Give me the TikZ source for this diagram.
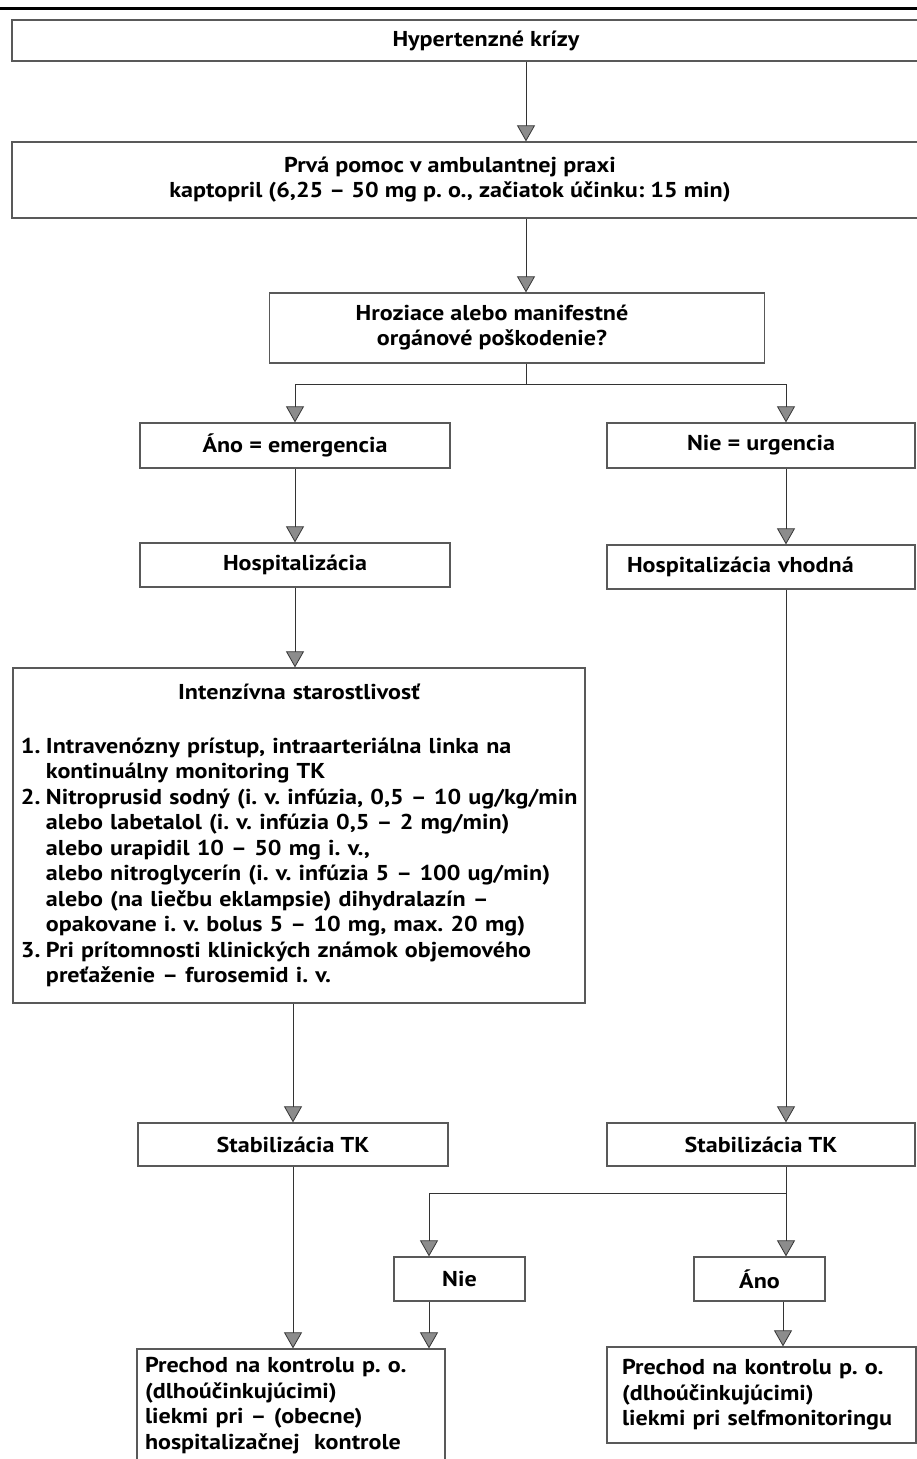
\documentclass[tikz,border=0pt]{standalone}
\usepackage{fontspec}
\setmainfont{PT Sans}[FakeStretch=1.12]
\usetikzlibrary{arrows.meta,positioning}
\setlength{\parindent}{0pt}
\frenchspacing
\tikzset{
  box/.style={rectangle,draw=black!65,line width=1.3pt,inner sep=0pt,align=center,
    font=\bfseries\fontsize{21.5}{25.5}\selectfont},
  arr/.style={draw=black!80,line width=0.8pt,-{Triangle[width=18pt,length=16pt,fill=black!45]}},
  lin/.style={draw=black!80,line width=0.8pt},
}
\newcommand{\itm}[2]{\makebox[25pt][l]{#1}\mbox{#2}}
\newcommand{\ind}[1]{\hspace*{25pt}\mbox{#1}}
\newcommand{\lft}[2]{\hspace*{#1}\begin{tabular}{@{}c@{}}#2\end{tabular}}

\begin{document}
\begin{tikzpicture}[x=1pt,y=-1pt,node distance=0pt,on grid]
\useasboundingbox (0,0) rectangle (917,1459);
\clip (0,0) rectangle (917,1459);
\draw[line width=3pt] (0,8) -- (917,8);
\node[box,minimum width=948pt,minimum height=41pt](q_0) at (486,40.5) {Hypertenzné krízy};
\node[box,minimum width=908pt,minimum height=76pt](q_1) at (466,180) {\lft{-32pt}{Prvá pomoc v ambulantnej praxi\\kaptopril (6,25 – 50 mg p. o., začiatok účinku: 15 min)}};
\node[box,minimum width=495pt,minimum height=70pt](q_2) at (517,328) {\lft{-50pt}{Hroziace alebo manifestné\\orgánové poškodenie?}};
\node[box,minimum width=310pt,minimum height=45pt](q_3) at (295,445.5) {Áno = emergencia};
\node[box,minimum width=308pt,minimum height=45pt](q_4) at (761,445.5) {Nie = urgencia};
\node[box,minimum width=310pt,minimum height=44pt](q_5) at (295,565) {Hospitalizácia};
\node[box,minimum width=308pt,minimum height=44pt,text width=268pt,inner xsep=20pt,align=left](q_6) at (761,567) {\mbox{Hospitalizácia vhodná}};
\node[box,minimum width=572pt,minimum height=335pt,text width=556pt,inner xsep=8pt,align=left](q_7) at (299,835.5) {\makebox[556pt]{Intenzívna starostlivosť}\\[28pt]
\itm{1.}{Intravenózny prístup, intraarteriálna linka na}\\
\ind{kontinuálny monitoring TK}\\
\itm{2.}{Nitroprusid sodný (i. v. infúzia, 0,5 – 10 ug/kg/min}\\
\ind{alebo labetalol (i. v. infúzia 0,5 – 2 mg/min)}\\
\ind{alebo urapidil 10 – 50 mg i. v.,}\\
\ind{alebo nitroglycerín (i. v. infúzia 5 – 100 ug/min)}\\
\ind{alebo (na liečbu eklampsie) dihydralazín –}\\
\ind{opakovane i. v. bolus 5 – 10 mg, max. 20 mg)}\\
\itm{3.}{Pri prítomnosti klinických známok objemového}\\
\ind{preťaženie – furosemid i. v.}};
\node[box,minimum width=310pt,minimum height=43pt](q_8) at (293,1144.5) {Stabilizácia TK};
\node[box,minimum width=308pt,minimum height=43pt](q_9) at (761,1144.5) {Stabilizácia TK};
\node[box,minimum width=131pt,minimum height=44pt](q_10) at (459.5,1279) {Nie};
\node[box,minimum width=131pt,minimum height=44pt](q_11)[right=of q_10,xshift=300pt] {Áno};
\node[box,minimum width=308pt,minimum height=113pt,text width=292pt,inner xsep=8pt,align=left](q_12) at (291,1405.5) {\mbox{Prechod na kontrolu p. o.}\\\mbox{(dlhoúčinkujúcimi)}\\\mbox{liekmi pri – (obecne)}\\\mbox{hospitalizačnej\ \ kontrole}};
\node[box,minimum width=309pt,minimum height=96pt,text width=279pt,inner xsep=15pt,align=left](q_13) at (761.5,1395) {\mbox{Prechod na kontrolu p. o.}\\\mbox{(dlhoúčinkujúcimi)}\\\mbox{liekmi pri selfmonitoringu}};
\node[coordinate](c_s) at (526,0) {};
\node[coordinate](c_r) at (786,0) {};
\node[coordinate](c_a) at (783,0) {};
\node[coordinate](c_n) at (429,0) {};
\node[coordinate](c_1) at (526,384) {};
\node[coordinate](c_2) at (786,1193) {};
\draw[arr] (q_0.south -| c_s) -- (q_1.north -| c_s);
\draw[arr] (q_1.south -| c_s) -- (q_2.north -| c_s);
\draw[lin] (q_2.south -| c_s) -- (c_1);
\draw[arr] (c_1) -| (q_3.north);
\draw[arr] (c_1) -| (q_4.north -| c_r);
\draw[arr] (q_3.south) -- (q_5.north);
\draw[arr] (q_4.south -| c_r) -- (q_6.north -| c_r);
\draw[arr] (q_5.south) -- (q_5.south |- q_7.north);
\draw[arr] (q_7.south -| q_8.north) -- (q_8.north);
\draw[arr] (q_6.south -| c_r) -- (q_9.north -| c_r);
\draw[arr] (q_8.south) -- (q_8.south |- q_12.north);
\draw[arr] (q_9.south -| c_r) -- (q_11.north -| c_r);
\draw[arr] (c_2) -| (q_10.north -| c_n);
\draw[arr] (q_10.south -| c_n) -- (q_12.north -| c_n);
\draw[arr] (q_11.south -| c_a) -- (q_13.north -| c_a);
\end{tikzpicture}
\end{document}
